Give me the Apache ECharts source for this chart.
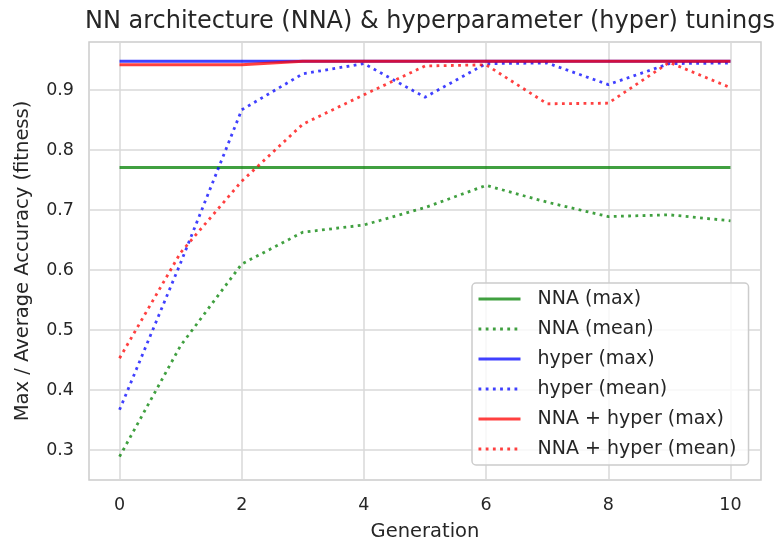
<!DOCTYPE html>
<html>
<head>
<meta charset="utf-8">
<script src="https://cdn.jsdelivr.net/npm/echarts@6/dist/echarts.min.js"></script>
<style>
html,body{margin:0;padding:0;background:#fff;}
#chart{width:774px;height:541px;}
</style>
</head>
<body>
<div id="chart"></div>
<script>
const generations = [0,1,2,3,4,5,6,7,8,9,10];
const nnaMax    = [0.771,0.771,0.771,0.771,0.771,0.771,0.771,0.771,0.771,0.771,0.771];
const nnaMean   = [0.289,0.474,0.610,0.663,0.675,0.704,0.741,0.713,0.689,0.692,0.682];
const hyperMax  = [0.948,0.948,0.948,0.948,0.948,0.948,0.948,0.948,0.948,0.948,0.948];
const hyperMean = [0.367,0.612,0.867,0.927,0.944,0.888,0.944,0.945,0.909,0.944,0.945];
const bothMax   = [0.942,0.942,0.942,0.948,0.948,0.948,0.948,0.948,0.948,0.948,0.948];
const bothMean  = [0.453,0.629,0.748,0.843,0.892,0.940,0.942,0.877,0.878,0.946,0.904];
const xTicks = [0,2,4,6,8,10];
const yTicks = [0.3,0.4,0.5,0.6,0.7,0.8,0.9];

const pairs = arr => generations.map((g,i)=>[g,arr[i]]);
const GREEN='rgba(0,128,0,0.75)', BLUE='rgba(0,0,255,0.75)', RED='rgba(255,0,0,0.75)';
const TXT='#262626', FONT='DejaVu Sans';
function mk(name, arr, color, dotted){
  return {
    name, type:'line', data:pairs(arr), showSymbol:false, symbol:'none', animation:false,
    lineStyle: dotted ? {color, width:2.8, type:[2.8,4.4], cap:'butt'} : {color, width:3, type:'solid'},
    itemStyle:{color}
  };
}
const chart = echarts.init(document.getElementById('chart'));
chart.setOption({
  backgroundColor:'#fff',
  animation:false,
  title:{text:'NN architecture (NNA) & hyperparameter (hyper) tunings', left:425, top:5, textAlign:'center',
    textStyle:{fontFamily:FONT, fontSize:24, fontWeight:'normal', color:TXT}},
  grid:{left:89, right:13, top:42, bottom:61, show:true, borderColor:'#cccccc', borderWidth:1.5,
    backgroundColor:'transparent', outerBoundsMode:'none', containLabel:false},
  xAxis:{type:'value', min:-0.5, max:10.5, name:'Generation', nameLocation:'middle', nameGap:42,
    nameTextStyle:{fontFamily:FONT, fontSize:19.5, color:TXT},
    axisLine:{show:false}, axisTick:{show:false, customValues:xTicks},
    axisLabel:{customValues:xTicks, fontFamily:FONT, fontSize:17.5, color:TXT, margin:16},
    splitLine:{show:true, lineStyle:{color:'#d9d9d9', width:1.5}}},
  yAxis:{type:'value', min:0.25, max:0.98, name:'Max / Average Accuracy (fitness)', nameLocation:'middle', nameGap:56,
    nameTextStyle:{fontFamily:FONT, fontSize:19.5, color:TXT},
    axisLine:{show:false}, axisTick:{show:false, customValues:yTicks},
    axisLabel:{customValues:yTicks, fontFamily:FONT, fontSize:17.5, color:TXT, margin:15, formatter:v=>v.toFixed(1)},
    splitLine:{show:true, lineStyle:{color:'#d9d9d9', width:1.5}}},
  legend:{orient:'vertical', left:472, top:283, width:280,
    padding:[6,12,6,5], itemWidth:42, itemHeight:14, itemGap:10,
    itemStyle:{color:'rgba(0,0,0,0)', borderWidth:0, opacity:0},
    lineStyle:{width:3},
    backgroundColor:'rgba(255,255,255,0.8)', borderColor:'#cccccc', borderWidth:1.5, borderRadius:4,
    textStyle:{fontFamily:FONT, fontSize:19, color:TXT, lineHeight:20, padding:[0,0,0,12]},
    data:['NNA (max)','NNA (mean)','hyper (max)','hyper (mean)','NNA + hyper (max)','NNA + hyper (mean)']},
  series:[
    mk('NNA (max)', nnaMax, GREEN, false),
    mk('NNA (mean)', nnaMean, GREEN, true),
    mk('hyper (max)', hyperMax, BLUE, false),
    mk('hyper (mean)', hyperMean, BLUE, true),
    mk('NNA + hyper (max)', bothMax, RED, false),
    mk('NNA + hyper (mean)', bothMean, RED, true)
  ]
});
</script>
</body>
</html>
